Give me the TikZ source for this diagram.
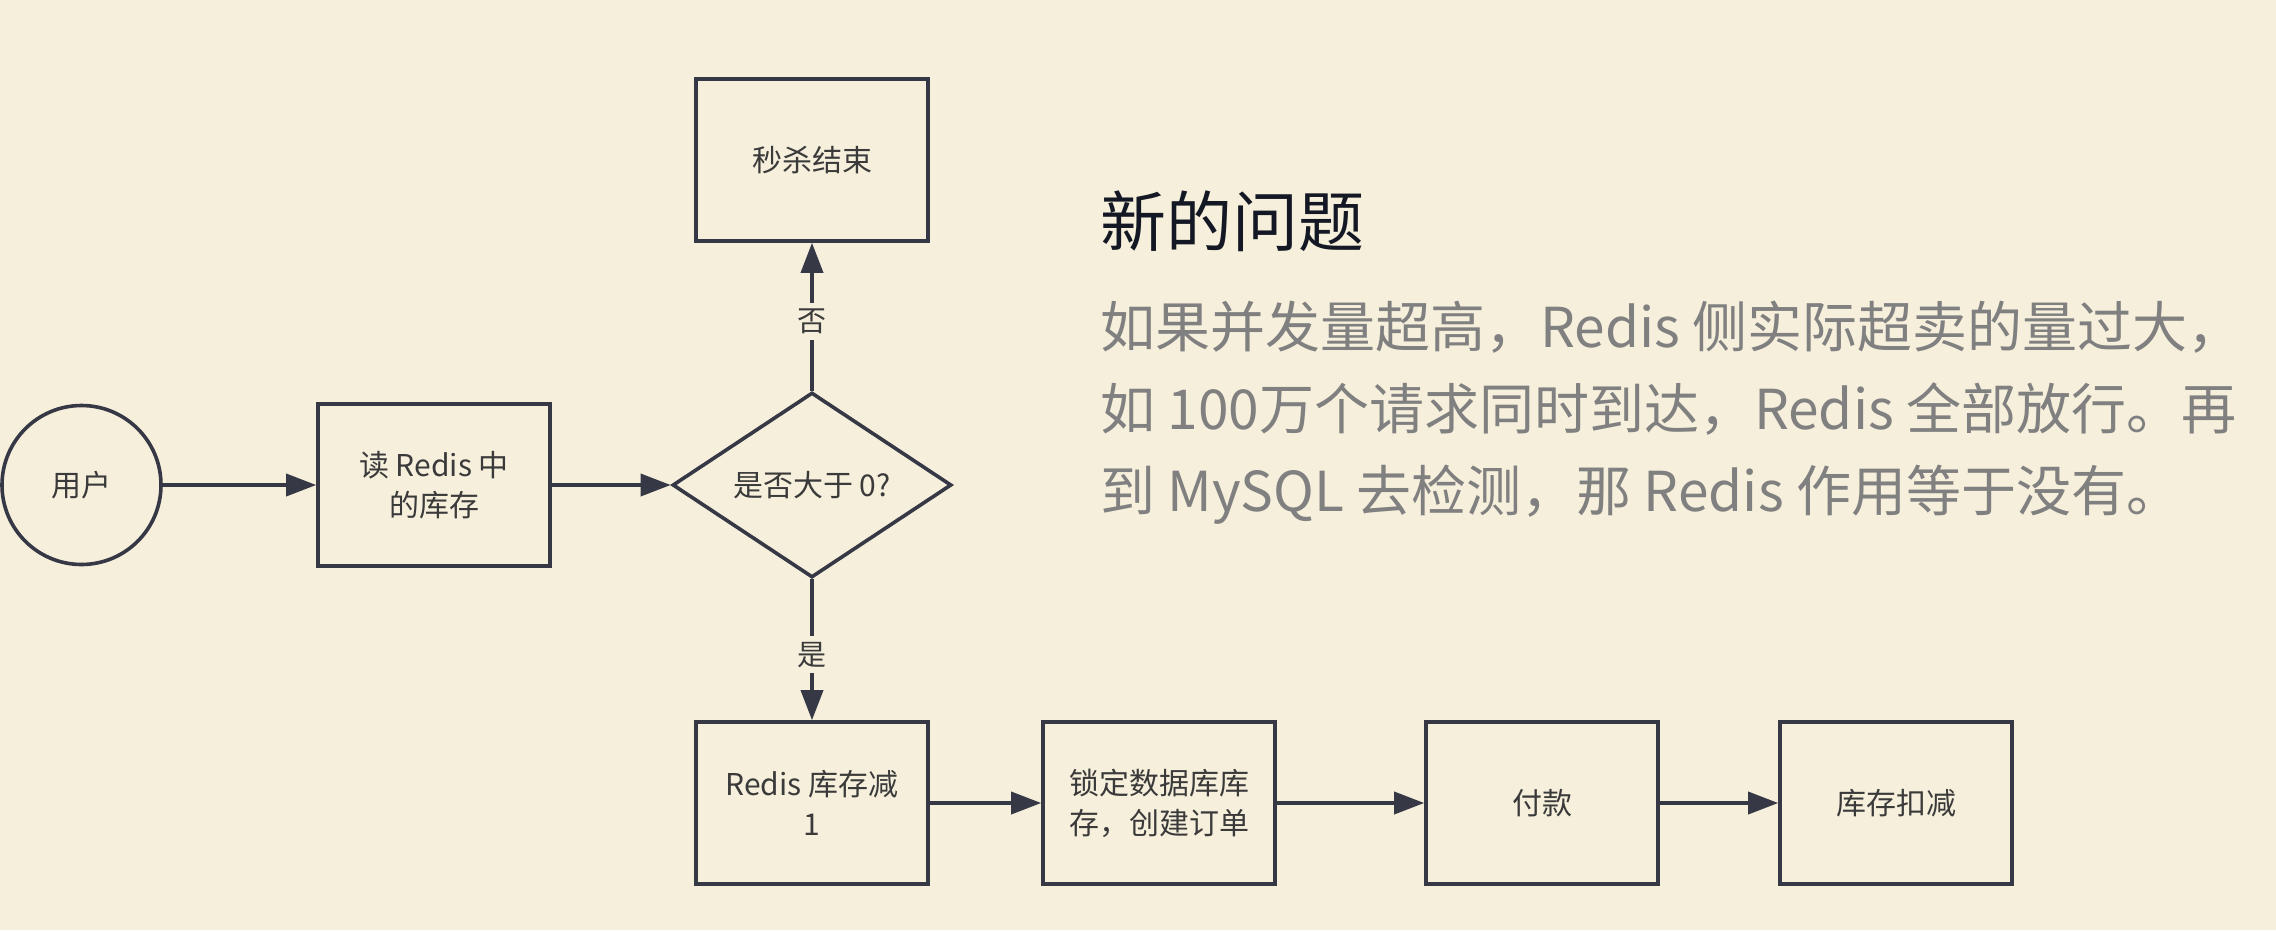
\documentclass[tikz,border=0pt]{standalone}
\usepackage{fontspec}
\setmainfont{Noto Sans CJK SC}
\usetikzlibrary{shapes.geometric,arrows.meta}
\definecolor{bg}{HTML}{F6EFDC}
\definecolor{ln}{HTML}{363945}
\definecolor{tx}{HTML}{3A3A3A}
\definecolor{bodyc}{HTML}{808080}
\definecolor{ttl}{HTML}{141824}
\begin{document}
\begin{tikzpicture}[x=1pt,y=-1pt,
  every node/.style={font=\fontsize{30}{40}\selectfont, text=tx},
  box/.style={draw=ln, line width=3.6pt, minimum width=232pt, minimum height=162pt, inner sep=0pt, align=center},
  start/.style={draw=ln, line width=3.6pt, circle, minimum size=159pt, inner sep=0pt},
  decide/.style={draw=ln, line width=3.6pt, diamond, shape aspect=1.5, minimum width=279pt, minimum height=185pt, inner sep=0pt},
  arr/.style={draw=ln, line width=3.6pt, -{Triangle[length=30pt,width=22pt]}},
  elabel/.style={fill=bg, inner sep=6pt, font=\fontsize{29}{29}\selectfont},
  bodyline/.style={anchor=base west, inner sep=0pt, text=bodyc, font=\fontsize{55}{55}\selectfont},
]
\path[fill=bg] (0,0) rectangle (2276,930);

\node[start] (user) at (81.5,485) {用户};
\node[box] (read) at (434,485) {读 Redis 中\\的库存};
\node[decide] (check) at (812,485) {是否大于 0?};
\node[box] (end) at (812,160) {秒杀结束};
\node[box] (dec) at (812,803) {Redis 库存减\\1};
\node[box] (lock) at (1159,803) {锁定数据库库\\存，创建订单};
\node[box] (pay) at (1542,803) {付款};
\node[box] (deduct) at (1896,803) {库存扣减};

\draw[arr] (user) -- (read);
\draw[arr] (read) -- (check);
\draw[arr] (check) -- node[elabel, pos=0.47] {否} (end);
\draw[arr] (check) -- node[elabel, pos=0.535] {是} (dec);
\draw[arr] (dec) -- (lock);
\draw[arr] (lock) -- (pay);
\draw[arr] (pay) -- (deduct);

\node[anchor=base west, inner sep=0pt, text=ttl, font=\fontsize{66}{66}\selectfont] (title) at (1100,246) {新的问题};
\node[bodyline] (l1) at (1100,347) {如果并发量超高，Redis 侧实际超卖的量过大，};
\node[bodyline] (l2) at (1100,429) {如 100万个请求同时到达，Redis 全部放行。再};
\node[bodyline] (l3) at (1100,511) {到 MySQL 去检测，那 Redis 作用等于没有。};
\end{tikzpicture}
\end{document}
